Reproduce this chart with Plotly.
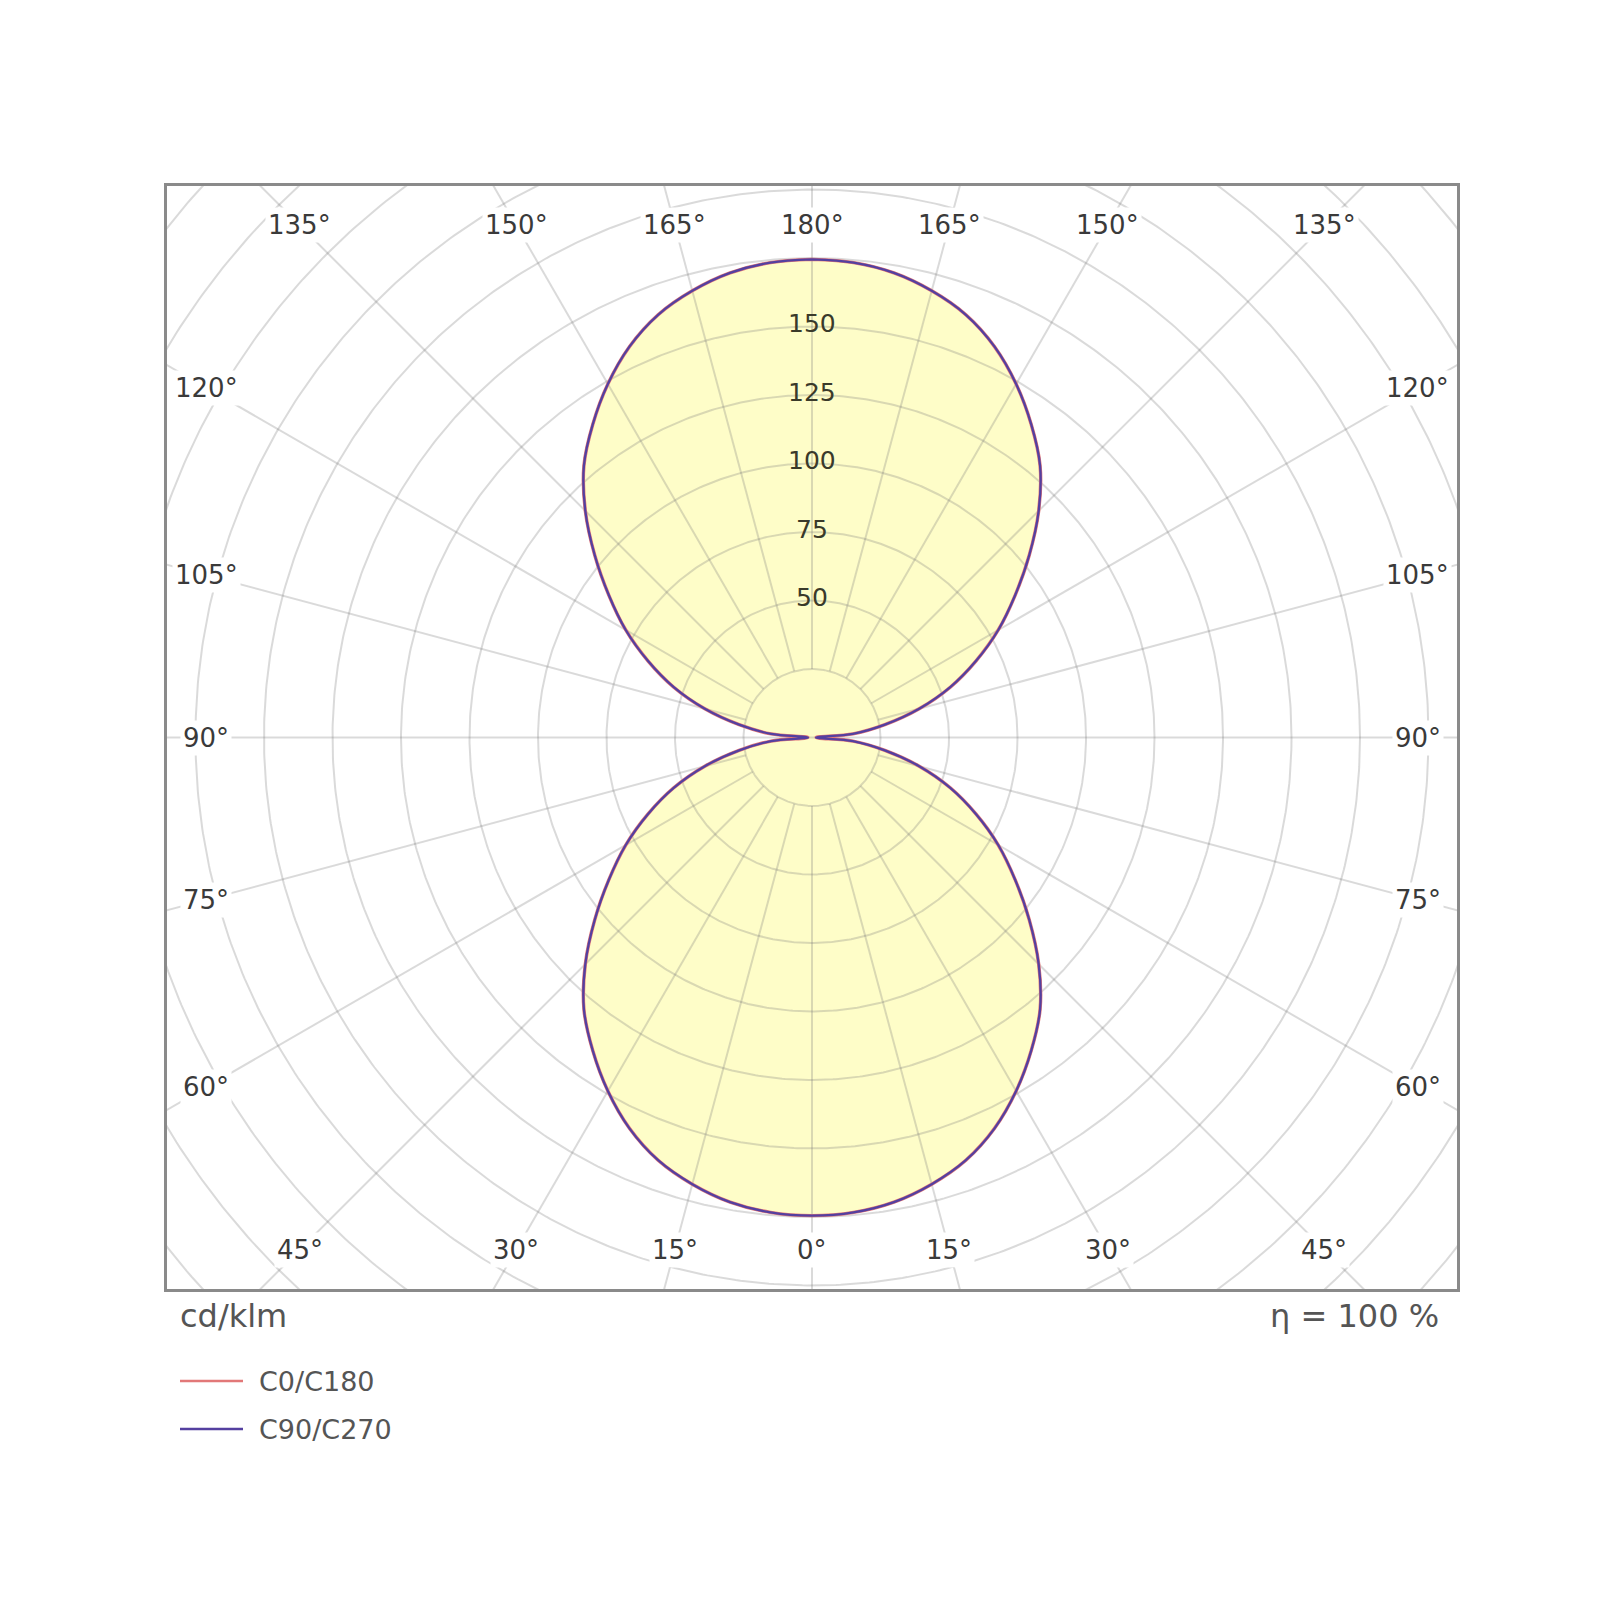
import numpy as np
import plotly.graph_objects as go

# ---------------- data ----------------
gamma_deg = list(range(0, 181, 5))  # 0 = straight down, 180 = straight up
c0_c180 = [174.5, 174.0, 172.2, 168.8, 164.2, 157.5, 149.0, 139.5, 129.5, 117.0,
           103.5, 90.5, 78.5, 66.0, 53.7, 40.5, 27.0, 15.0, 1.5,
           15.0, 27.0, 40.5, 53.7, 66.0, 78.5, 90.5, 103.5, 117.0, 129.5,
           139.5, 149.0, 157.5, 164.2, 168.8, 172.2, 174.0, 174.5]
c90_c270 = [174.5, 174.0, 172.2, 168.8, 164.2, 157.5, 149.0, 139.5, 129.5, 117.0,
            103.5, 90.5, 78.5, 66.0, 53.7, 40.5, 27.0, 15.0, 1.5,
            15.0, 27.0, 40.5, 53.7, 66.0, 78.5, 90.5, 103.5, 117.0, 129.5,
            139.5, 149.0, 157.5, 164.2, 168.8, 172.2, 174.0, 174.5]
ring_values = [25, 50, 75, 100, 125, 150, 175, 200, 225, 250, 275, 300, 325, 350]
ring_label_values = [50, 75, 100, 125, 150]
spoke_angles = list(range(0, 360, 15))
angle_label_values = [0, 15, 30, 45, 60, 75, 90, 105, 120, 135, 150, 165, 180]
series_names = ["C0/C180", "C90/C270"]
unit_text = "cd/klm"
efficiency_text = "η = 100 %"

# ---------------- styling ----------------
FONT = "DejaVu Sans"
GRID = "rgba(120,120,120,0.27)"
FILL = "rgb(254,253,200)"
RED = "rgb(226,120,120)"
BLUE = "rgb(84,64,160)"
XR = 235.4
YR = 201.3
ML, MT, PW, PH = 159, 178, 1290, 1103  # plot area (page has an 8px body margin)


def profile_xy(values):
    g = np.radians(np.array(gamma_deg, dtype=float))
    v = np.array(values, dtype=float)
    xr = v * np.sin(g)
    yr = -v * np.cos(g)
    # right half going up, then left half coming down
    x = np.concatenate([xr, -xr[::-1]])
    y = np.concatenate([yr, yr[::-1]])
    return x, y


fig = go.Figure()

# filled light distribution
fx, fy = profile_xy(c0_c180)
fig.add_trace(go.Scatter(x=fx, y=fy, mode="lines", fill="toself",
                         fillcolor=FILL, line=dict(width=0, color=FILL, shape="spline",
                                                   smoothing=1.0),
                         hoverinfo="skip", showlegend=False))

# grid rings
th = np.linspace(0, 2 * np.pi, 721)
gx, gy = [], []
for r in ring_values:
    gx += list(r * np.cos(th)) + [None]
    gy += list(r * np.sin(th)) + [None]
fig.add_trace(go.Scatter(x=gx, y=gy, mode="lines", line=dict(color=GRID, width=2),
                         hoverinfo="skip", showlegend=False))

# grid spokes
sx, sy = [], []
for a in spoke_angles:
    ar = np.radians(a)
    r0 = 0 if a in (90, 270) else ring_values[0]
    r1 = 420
    sx += [r0 * np.sin(ar), r1 * np.sin(ar), None]
    sy += [-r0 * np.cos(ar), -r1 * np.cos(ar), None]
fig.add_trace(go.Scatter(x=sx, y=sy, mode="lines", line=dict(color=GRID, width=2),
                         hoverinfo="skip", showlegend=False))

# curves
for vals, name, col, w in [(c0_c180, series_names[0], RED, 3.4),
                           (c90_c270, series_names[1], BLUE, 2.3)]:
    cx, cy = profile_xy(vals)
    fig.add_trace(go.Scatter(x=cx, y=cy, mode="lines", name=name,
                             line=dict(color=col, width=w, shape="spline", smoothing=1.0),
                             hoverinfo="skip", showlegend=False))

annotations = []
# radial value labels
for v in ring_label_values:
    annotations.append(dict(x=0, y=v, xref="x", yref="y", text=str(v), showarrow=False,
                            font=dict(family=FONT, size=25, color="#3a3a2a"),
                            xanchor="center", yanchor="middle", yshift=3))

# angle labels along the frame
LX, LY = 221.0, 187.0
for gdeg in angle_label_values:
    sides = [1] if gdeg in (0, 180) else [-1, 1]
    gr = np.radians(gdeg)
    for s in sides:
        dx, dy = s * np.sin(gr), -np.cos(gr)
        tx = LX / abs(dx) if abs(dx) > 1e-9 else 1e9
        ty = LY / abs(dy) if abs(dy) > 1e-9 else 1e9
        t = min(tx, ty)
        annotations.append(dict(x=t * dx, y=t * dy, xref="x", yref="y",
                                text=f"{gdeg}°", showarrow=False, bgcolor="white",
                                borderpad=2,
                                font=dict(family=FONT, size=26, color="#3a3a3a"),
                                xanchor="center", yanchor="middle"))

# unit and efficiency texts
annotations.append(dict(x=0, y=0, xref="paper", yref="paper", text=unit_text,
                        showarrow=False, xanchor="left", yanchor="middle",
                        xshift=11, yshift=-27,
                        font=dict(family=FONT, size=32, color="#555555")))
annotations.append(dict(x=1, y=0, xref="paper", yref="paper", text=efficiency_text,
                        showarrow=False, xanchor="right", yanchor="middle",
                        xshift=-16, yshift=-27,
                        font=dict(family=FONT, size=32, color="#555555")))

# legend (drawn manually to match the long swatches)
shapes = []
legend_cols = [RED, BLUE]
for i, (name, col) in enumerate(zip(series_names, legend_cols)):
    yshift = -92 - 48 * i
    annotations.append(dict(x=0, y=0, xref="paper", yref="paper", text=name,
                            showarrow=False, xanchor="left", yanchor="middle",
                            xshift=90, yshift=yshift,
                            font=dict(family=FONT, size=27, color="#555555")))
    yp = yshift / PH
    shapes.append(dict(type="line", xref="paper", yref="paper",
                       x0=13 / PW, x1=76 / PW,
                       y0=yp, y1=yp, line=dict(color=col, width=2.5)))

fig.update_layout(
    width=1600, height=1600,
    margin=dict(l=ML, r=1600 - ML - PW, t=MT, b=1600 - MT - PH),
    paper_bgcolor="white", plot_bgcolor="white",
    showlegend=False,
    xaxis=dict(range=[-XR, XR], showgrid=False, zeroline=False, showticklabels=False,
               ticks="", showline=True, mirror=True, linecolor="#8a8a8a", linewidth=3,
               fixedrange=True),
    yaxis=dict(range=[-YR, YR], showgrid=False, zeroline=False, showticklabels=False,
               ticks="", showline=True, mirror=True, linecolor="#8a8a8a", linewidth=3,
               fixedrange=True),
    annotations=annotations,
    shapes=shapes,
)

fig.write_html("out.html")
